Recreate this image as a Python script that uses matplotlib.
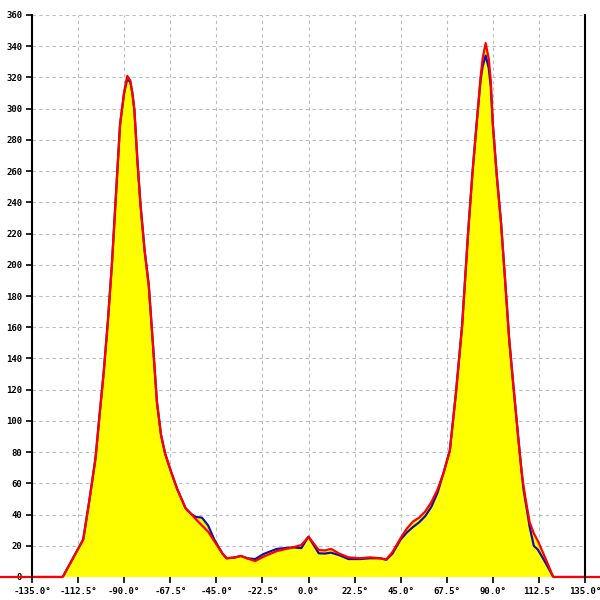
import matplotlib
matplotlib.use("Agg")
import matplotlib.pyplot as plt
import numpy as np

angles = [-155, -120, -115, -110, -107, -104, -102, -100, -98, -96, -94, -92, -90, -88.5,
          -87, -86, -85, -83.5, -82, -80, -78, -76, -74, -72, -70, -67, -64, -60, -57,
          -55, -52, -49, -46, -44, -42, -40, -36, -33, -30, -26, -22, -15.5, -7.5, -3.5,
          0, 5, 8, 11, 15, 19.5, 25, 30, 35, 38, 41, 45, 48, 51, 54, 57, 60, 63, 66, 69,
          72, 75, 78, 80, 82, 84, 85, 86.5, 88, 89, 90, 92, 94, 96, 98, 100, 102.5, 104,
          105, 106.5, 108, 110, 112, 116, 119.5, 155]

red_values = [0, 0, 12, 24, 49, 76, 104, 131, 163, 200, 245, 290, 311, 321,
              318, 310, 299, 266, 238, 209, 187, 150, 112, 91, 79, 67, 56, 44, 40,
              37, 33, 29, 23, 19, 15, 12, 12.5, 13.5, 12, 10.2, 13, 16.6, 19, 20.5,
              25.8, 17.3, 17, 18, 15, 12.6, 12, 12.6, 12, 11.3, 16, 25, 31, 35.5, 38, 42, 48, 56, 67, 81,
              118, 161, 222, 258, 289, 320, 332, 342, 332, 318, 290, 256, 227, 190, 152, 123, 88, 68,
              58, 46, 35, 28, 23, 11, 0, 0]

blue_values = [0, 0, 12, 24, 49, 76, 104, 131, 163, 200, 245, 290, 310, 319,
               317, 310, 299, 266, 238, 209, 187, 150, 112, 91, 79, 67, 56, 44, 40,
               38.5, 38, 33, 24, 19.5, 15, 12, 12.5, 13.5, 12, 11.5, 14.7, 18, 19, 18.5,
               25.8, 15.2, 15, 15.6, 14, 11.5, 11.5, 12, 12, 11, 15, 24, 28.5, 32, 35, 39, 45, 54, 67, 81,
               118, 161, 222, 258, 289, 318, 327, 334, 326, 314, 290, 256, 227, 190, 152, 123, 88, 68,
               56, 44, 32, 20, 17.5, 8.5, 0, 0]

x_ticks = [-135.0, -112.5, -90.0, -67.5, -45.0, -22.5, 0.0, 22.5, 45.0, 67.5, 90.0, 112.5, 135.0]
y_ticks = list(range(0, 361, 20))

fig = plt.figure(figsize=(6, 6), dpi=100)
ax = fig.add_axes([32/600, 23/600, 553/600, 562/600])

ax.fill_between(angles, 0, blue_values, color="#FFFF00", lw=0, zorder=2)
ax.fill_between(angles, 0, red_values, color="#FFFF00", lw=0, zorder=2)
ax.plot(angles, blue_values, color="#1010B0", lw=1.6, zorder=3)
ax.plot(angles, red_values, color="#FF0000", lw=1.6, zorder=4, clip_on=False)

ax.set_xlim(-135, 135)
ax.set_ylim(0, 360)
ax.set_xticks(x_ticks)
ax.set_xticklabels([f"{t:.1f}°" for t in x_ticks])
ax.set_yticks(y_ticks)
ax.set_yticklabels([str(t) for t in y_ticks])

ax.grid(True, color="#BBBBBB", linestyle=(0, (3, 3)), linewidth=0.8, zorder=1)
ax.set_axisbelow(True)

for s in ["top", "bottom"]:
    ax.spines[s].set_visible(False)
for s in ["left", "right"]:
    ax.spines[s].set_color("black")
    ax.spines[s].set_linewidth(1.5)
    ax.spines[s].set_zorder(5)

ax.tick_params(axis="both", direction="out", length=4, width=1.2, color="black",
               labelsize=6.5, pad=3)
ax.tick_params(axis="y", right=False)
for lab in ax.get_xticklabels() + ax.get_yticklabels():
    lab.set_fontfamily("DejaVu Sans Mono")
    lab.set_fontweight("bold")

fig.savefig("out.png", dpi=100)
